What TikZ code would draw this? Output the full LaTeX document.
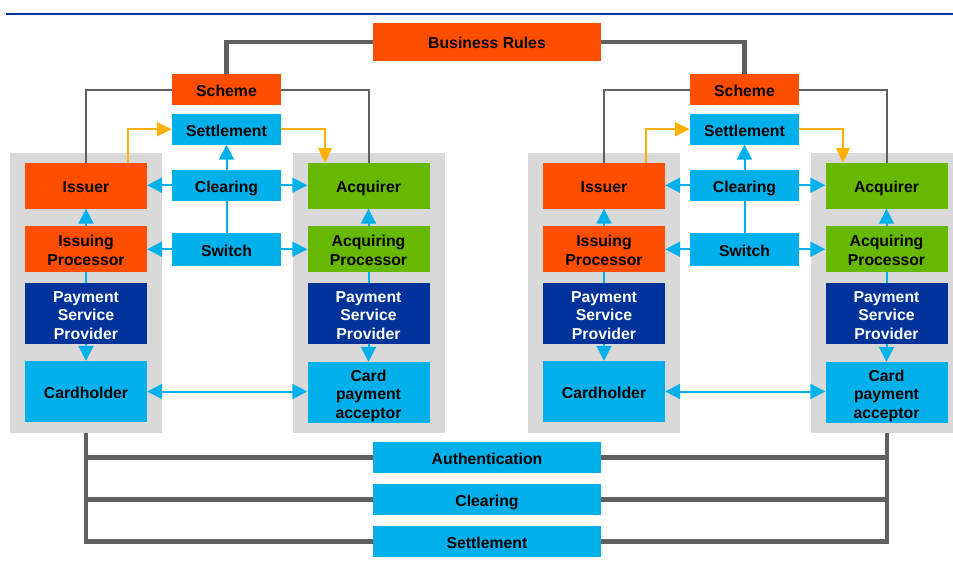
\documentclass[tikz,border=0pt]{standalone}
\usepackage{fontspec}
\setmainfont{Liberation Sans}
\usetikzlibrary{arrows.meta}
\definecolor{cOrange}{HTML}{FF4E00}
\definecolor{cGreen}{HTML}{66B800}
\definecolor{cNavy}{HTML}{003399}
\definecolor{cSky}{HTML}{00B0EA}
\definecolor{cPanel}{HTML}{D9D9D9}
\definecolor{cLine}{HTML}{606060}
\definecolor{cGold}{HTML}{FFB000}
\newcommand{\toppad}{\rule{0pt}{17.3pt}}
\newcommand{\botpad}{\vphantom{p}}
\begin{document}
\begin{tikzpicture}[x=1pt,y=-1pt,
  box/.style={rectangle, inner sep=0pt, align=center, text=black,
    font=\fontsize{15.8}{18.5}\selectfont\bfseries},
  oneline/.style={text height=13.5pt, text depth=0pt},
  wide/.style={minimum width=122pt},
  mid/.style={minimum width=109pt},
  panel/.style={rectangle, fill=cPanel, inner sep=0pt, minimum width=152pt, minimum height=280pt},
  skyarrow/.style={draw=cSky, line width=2pt, -{Triangle[length=15pt,width=15pt]}},
  skydouble/.style={draw=cSky, line width=2pt, {Triangle[length=15pt,width=15pt]}-{Triangle[length=15pt,width=15pt]}},
  skyline/.style={draw=cSky, line width=2pt},
  goldarrow/.style={draw=cGold, line width=2pt, -{Triangle[length=15pt,width=14pt]}},
  thinrule/.style={draw=cLine, line width=2pt},
  thickrule/.style={draw=cLine, line width=4.5pt},
]
\useasboundingbox (0,0) rectangle (953,566);
\clip (0,0) rectangle (953,566);

% title rule
\draw[cNavy, line width=2pt] (6,13.5) -- (953,13.5);

% business rules
\node[box, oneline, fill=cOrange, minimum width=228pt, minimum height=38pt] (br) at (487,42) {Business Rules};

\foreach \o/\s in {0/a,518/b}{
  \node[panel] (panel\s1) at (86+\o,293) {};
  \node[panel] (panel\s2) at (369+\o,293) {};
  \node[box, oneline, mid, fill=cOrange, minimum height=31pt] (scheme\s) at (226.5+\o,89.5) {Scheme};
  \node[box, oneline, mid, fill=cSky, minimum height=30.5pt] (settle\s) at (226.5+\o,129.25) {Settlement};
  \node[box, oneline, mid, fill=cSky, minimum height=30.5pt] (clear\s) at (226.5+\o,185.25) {Clearing};
  \node[box, oneline, mid, fill=cSky, minimum height=32.5pt] (switch\s) at (226.5+\o,249.25) {Switch};
  \node[box, oneline, wide, fill=cOrange, minimum height=45.5pt] (issuer\s) at (86+\o,185.75) {Issuer};
  \node[box, wide, fill=cOrange, minimum height=46pt] (iproc\s) at (86+\o,249) {\toppad Issuing\\Processor\botpad};
  \node[box, wide, fill=cNavy, text=white, minimum height=61pt] (pspi\s) at (86+\o,313.5) {\toppad Payment\\Service\\Provider\botpad};
  \node[box, oneline, wide, fill=cSky, minimum height=61pt] (holder\s) at (86+\o,391.5) {Cardholder};
  \node[box, oneline, wide, fill=cGreen, minimum height=45.5pt] (acq\s) at (368.5+\o,185.75) {Acquirer};
  \node[box, wide, fill=cGreen, minimum height=46pt] (aproc\s) at (368.5+\o,249) {\toppad Acquiring\\Processor\botpad};
  \node[box, wide, fill=cNavy, text=white, minimum height=61pt] (pspa\s) at (368.5+\o,313.5) {\toppad Payment\\Service\\Provider\botpad};
  \node[box, wide, fill=cSky, minimum height=61pt] (cpa\s) at (368.5+\o,392.5) {\toppad Card\\payment\\acceptor\botpad};

  % scheme links
  \draw[thinrule] (scheme\s.west) -| (issuer\s.north);
  \draw[thinrule] (scheme\s.east) -| (acq\s.north);
  % settlement flow
  \draw[goldarrow] ([xshift=42pt]issuer\s.north) |- (settle\s.west);
  \draw[goldarrow] (settle\s.east) -| ([xshift=-43.5pt]acq\s.north);
  % clearing / switch
  \draw[skyarrow] (clear\s.north) -- (settle\s.south);
  \draw[skyline] (switch\s.north) -- (clear\s.south);
  \draw[skyarrow] (clear\s.west) -- (clear\s.west -| issuer\s.east);
  \draw[skyarrow] (clear\s.east) -- (clear\s.east -| acq\s.west);
  \draw[skyarrow] (switch\s.west) -- (switch\s.west -| iproc\s.east);
  \draw[skyarrow] (switch\s.east) -- (switch\s.east -| aproc\s.west);
  % columns
  \draw[skyarrow] (iproc\s.north) -- (issuer\s.south);
  \draw[skyline] (pspi\s.north) -- (iproc\s.south);
  \draw[skyarrow] (pspi\s.south) -- (holder\s.north);
  \draw[skyarrow] (aproc\s.north) -- (acq\s.south);
  \draw[skyline] (pspa\s.north) -- (aproc\s.south);
  \draw[skyarrow] (pspa\s.south) -- (cpa\s.north);
  \draw[skydouble] (holder\s.east) -- (holder\s.east -| cpa\s.west);
}

% business rules links
\draw[thickrule] (br.west) -| (schemea.north);
\draw[thickrule] (br.east) -| (schemeb.north);

% bottom bars
\node[box, oneline, fill=cSky, minimum width=228pt, minimum height=31pt] (authB) at (487,457.5) {Authentication};
\node[box, oneline, fill=cSky, minimum width=228pt, minimum height=31pt] (clearB) at (487,499.5) {Clearing};
\node[box, oneline, fill=cSky, minimum width=228pt, minimum height=31pt] (settleB) at (487,541.5) {Settlement};

\draw[thickrule] (settleB.west) -| (panela1.south);
\draw[thickrule] (clearB.west) -| (panela1.south);
\draw[thickrule] (authB.west) -| (panela1.south);
\draw[thickrule] (settleB.east) -| (panelb2.south);
\draw[thickrule] (clearB.east) -| (panelb2.south);
\draw[thickrule] (authB.east) -| (panelb2.south);
\end{tikzpicture}
\end{document}
